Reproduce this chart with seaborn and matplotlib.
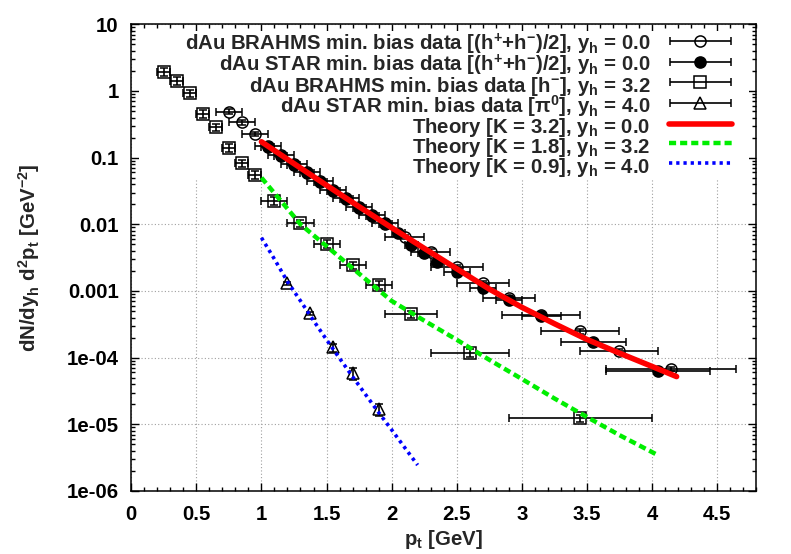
import numpy as np
import pandas as pd
import matplotlib
matplotlib.use("Agg")
import matplotlib.pyplot as plt
import seaborn as sns
from matplotlib.container import ErrorbarContainer
from matplotlib.legend_handler import HandlerErrorbar
from matplotlib.patches import Rectangle
from matplotlib.ticker import MultipleLocator, LogLocator, NullFormatter

# ---------------- Data ----------------
# BRAHMS, y_h = 0.0, (h+ + h-)/2  (open circles)
brahms0_pt = [0.75, 0.85, 0.95, 1.05, 1.15, 1.25, 1.35, 1.45, 1.55, 1.65, 1.75, 1.85, 1.95,
              2.10, 2.30, 2.50, 2.70, 2.90, 3.15, 3.45, 3.75, 4.15]
brahms0_val = [0.489, 0.339, 0.226, 0.152, 0.110, 0.081, 0.060, 0.044, 0.033, 0.0245, 0.0182,
               0.0137, 0.0103, 6.5e-3, 3.9e-3, 2.3e-3, 1.30e-3, 7.8e-4, 4.4e-4, 2.5e-4,
               1.25e-4, 6.8e-5]
brahms0_xerr = [0.1, 0.1, 0.1, 0.1, 0.1, 0.1, 0.1, 0.1, 0.1, 0.1, 0.1, 0.1, 0.1,
                0.15, 0.15, 0.2, 0.2, 0.2, 0.3, 0.3, 0.3, 0.5]

# STAR, y_h = 0.0, (h+ + h-)/2  (filled circles)
star0_pt = [1.05, 1.15, 1.25, 1.35, 1.45, 1.55, 1.65, 1.75, 1.85, 1.95,
            2.05, 2.15, 2.25, 2.35, 2.50, 2.70, 2.90, 3.15, 3.55, 4.05]
star0_val = [0.145, 0.106, 0.078, 0.058, 0.043, 0.032, 0.0238, 0.0178, 0.0133, 0.0100,
             7.5e-3, 4.9e-3, 3.7e-3, 2.75e-3, 1.95e-3, 1.10e-3, 7.3e-4, 4.2e-4, 1.74e-4, 6.2e-5]
star0_xerr = [0.05] * 14 + [0.1, 0.1, 0.1, 0.15, 0.25, 0.4]

# BRAHMS, y_h = 3.2, h-  (open squares)
brahms32_pt = [0.25, 0.35, 0.45, 0.55, 0.65, 0.75, 0.85, 0.95,
               1.10, 1.30, 1.50, 1.70, 1.90, 2.15, 2.60, 3.45]
brahms32_val = [1.95, 1.41, 0.92, 0.452, 0.285, 0.141, 0.0822, 0.055,
                0.0226, 0.01035, 5.07e-3, 2.45e-3, 1.23e-3, 4.5e-4, 1.19e-4, 1.23e-5]
brahms32_xerr = [0.05] * 8 + [0.1, 0.1, 0.1, 0.1, 0.1, 0.2, 0.3, 0.55]

# STAR, y_h = 4.0, pi0  (open triangles)
star40_pt = [1.20, 1.375, 1.55, 1.70, 1.90]
star40_val = [1.30e-3, 4.6e-4, 1.43e-4, 5.9e-5, 1.68e-5]
star40_yerr = [0.6e-4, 0.3e-4, 0.2e-4, 1.2e-5, 3.5e-6]

# Theory curves
th0_pt = [1.0, 1.25, 1.5, 1.75, 2.0, 2.25, 2.5, 2.75, 3.0, 3.25, 3.5, 3.75, 4.0, 4.19]
th0_val = [0.173, 0.0813, 0.0385, 0.0184, 8.9e-3, 4.37e-3, 2.16e-3, 1.07e-3, 5.7e-4,
           3.24e-4, 1.88e-4, 1.17e-4, 7.4e-5, 5.2e-5]
th32_pt = [1.0, 1.15, 1.3, 1.5, 1.75, 2.0, 2.25, 2.5, 2.75, 3.0, 3.25, 3.5, 3.75, 4.04]
th32_val = [0.050, 0.0224, 0.0100, 4.7e-3, 1.82e-3, 7.1e-4, 3.6e-4, 1.86e-4, 9.3e-5,
            4.8e-5, 2.45e-5, 1.29e-5, 6.9e-6, 3.5e-6]
th40_pt = [1.0, 1.1, 1.2, 1.3, 1.4, 1.5, 1.6, 1.7, 1.8, 1.9, 2.0, 2.1, 2.2]
th40_val = [6.3e-3, 3.0e-3, 1.38e-3, 7.1e-4, 3.6e-4, 1.86e-4, 9.8e-5, 5.2e-5, 2.8e-5,
            1.51e-5, 8.3e-6, 4.5e-6, 2.45e-6]

labels = [
    r"dAu BRAHMS min. bias data [(h$^{+}$+h$^{-}$)/2], y$_{h}$ = 0.0",
    r"dAu STAR min. bias data [(h$^{+}$+h$^{-}$)/2], y$_{h}$ = 0.0",
    r"dAu BRAHMS min. bias data [h$^{-}$], y$_{h}$ = 3.2",
    r"dAu STAR min. bias data [$\pi^{0}$], y$_{h}$ = 4.0",
    r"Theory [K = 3.2], y$_{h}$ = 0.0",
    r"Theory [K = 1.8], y$_{h}$ = 3.2",
    r"Theory [K = 0.9], y$_{h}$ = 4.0",
]

# ---------------- Settings ----------------
sns.set_theme(style="ticks")
plt.rcParams['font.family'] = ['Liberation Sans', 'DejaVu Sans']
plt.rcParams['font.weight'] = 'bold'
plt.rcParams['axes.labelweight'] = 'bold'
plt.rcParams['mathtext.fontset'] = 'custom'
plt.rcParams['mathtext.rm'] = 'Liberation Sans:bold'
plt.rcParams['mathtext.it'] = 'Liberation Sans:bold'
plt.rcParams['mathtext.bf'] = 'Liberation Sans:bold'
plt.rcParams['mathtext.default'] = 'bf'

FS = 14.7

fig = plt.figure(figsize=(7.91, 5.54), dpi=100)
ax = fig.add_axes([131.3 / 791, 1 - 491 / 554, (756 - 131.3) / 791, (491 - 24.3) / 554])
ax.set_yscale('log')
ax.set_xlim(0, 4.8)
ax.set_ylim(1e-6, 10)

ebkw = dict(color='black', ecolor='black', elinewidth=1.2, capsize=3, capthick=1.2,
            linestyle='none', zorder=3)
mk_circ = dict(fmt='o', mfc='none', mec='black', ms=8, mew=1.1)
mk_fill = dict(fmt='o', mfc='black', mec='black', ms=8, mew=1.1)
mk_sq = dict(fmt='s', mfc='none', mec='black', ms=8, mew=1.1)
mk_tri = dict(fmt='^', mfc='none', mec='black', ms=8, mew=1.1)

ax.errorbar(brahms0_pt, brahms0_val, xerr=brahms0_xerr, yerr=np.array(brahms0_val) * 0.08,
            **mk_circ, **ebkw)
ax.errorbar(star0_pt, star0_val, xerr=star0_xerr, yerr=np.array(star0_val) * 0.08,
            **mk_fill, **ebkw)
ax.errorbar(brahms32_pt, brahms32_val, xerr=brahms32_xerr, yerr=np.array(brahms32_val) * 0.13,
            **mk_sq, **ebkw)
ax.errorbar(star40_pt, star40_val, yerr=star40_yerr, **mk_tri, **ebkw)

# key samples: every data entry shows a horizontal bar in the key
h1 = ax.errorbar([np.nan], [np.nan], xerr=[0.1], **mk_circ, **ebkw)
h2 = ax.errorbar([np.nan], [np.nan], xerr=[0.1], **mk_fill, **ebkw)
h3 = ax.errorbar([np.nan], [np.nan], xerr=[0.1], **mk_sq, **ebkw)
h4 = ax.errorbar([np.nan], [np.nan], xerr=[0.1], **mk_tri, **ebkw)

theory = pd.DataFrame({
    'pt': th0_pt + th32_pt + th40_pt,
    'val': th0_val + th32_val + th40_val,
    'set': ['a'] * len(th0_pt) + ['b'] * len(th32_pt) + ['c'] * len(th40_pt),
})
sns.lineplot(data=theory[theory['set'] == 'a'], x='pt', y='val', color='#ff0000', lw=4,
             ax=ax, legend=False, zorder=4)
l5 = ax.lines[-1]
sns.lineplot(data=theory[theory['set'] == 'b'], x='pt', y='val', color='#00ee00', lw=3.2,
             ax=ax, legend=False, zorder=4)
l6 = ax.lines[-1]
l6.set_dashes([1.6, 0.9])
sns.lineplot(data=theory[theory['set'] == 'c'], x='pt', y='val', color='#0000ff', lw=2.6,
             ax=ax, legend=False, zorder=4)
l7 = ax.lines[-1]
l7.set_dashes([0.9, 1.1])

# grid and ticks
ax.set_axisbelow(True)
ax.xaxis.set_minor_locator(MultipleLocator(0.1))
ax.yaxis.set_minor_locator(LogLocator(base=10, subs=np.arange(2, 10), numticks=20))
ax.yaxis.set_minor_formatter(NullFormatter())
ax.set_xticks([0, 0.5, 1, 1.5, 2, 2.5, 3, 3.5, 4, 4.5])
ax.set_xticklabels(['0', '0.5', '1', '1.5', '2', '2.5', '3', '3.5', '4', '4.5'])
ax.set_yticks([1e-6, 1e-5, 1e-4, 1e-3, 1e-2, 0.1, 1, 10])
ax.set_yticklabels(['1e-06', '1e-05', '1e-04', '0.001', '0.01', '0.1', '1', '10'])
ax.grid(True, which='major', color='#a0a0a0', linestyle=(0, (1, 2)), linewidth=0.8)
ax.tick_params(which='both', direction='in', top=True, right=True, width=1, colors='black',
               labelsize=FS)
ax.tick_params(which='major', length=6)
ax.tick_params(which='minor', length=3)
ax.tick_params(axis='y', pad=9)
ax.tick_params(axis='x', pad=10)
for s in ax.spines.values():
    s.set_linewidth(1.1)
    s.set_color('black')

# opaque key background (hides the grid)
ax.add_patch(Rectangle((0.012, 0.668), 0.976, 0.318, transform=ax.transAxes,
                       facecolor='white', edgecolor='none', zorder=1))

ax.set_xlabel(r"p$_{t}$ [GeV]", fontsize=FS, fontweight='bold', labelpad=3)
ax.set_ylabel(r"dN/dy$_{h}$ d$^{2}$p$_{t}$ [GeV$^{-2}$]", fontsize=FS, fontweight='bold',
              labelpad=18)

leg = ax.legend([h1, h2, h3, h4, l5, l6, l7], labels, loc='upper right',
                bbox_to_anchor=(0.9616, 0.9836), borderaxespad=0, borderpad=0,
                frameon=False, markerfirst=False, fontsize=FS, handlelength=3.1,
                handleheight=1.4, handletextpad=0.9, labelspacing=-0.23,
                handler_map={ErrorbarContainer: HandlerErrorbar(xerr_size=1.5)})
leg.set_zorder(5)

fig.savefig("out.png", dpi=100)
